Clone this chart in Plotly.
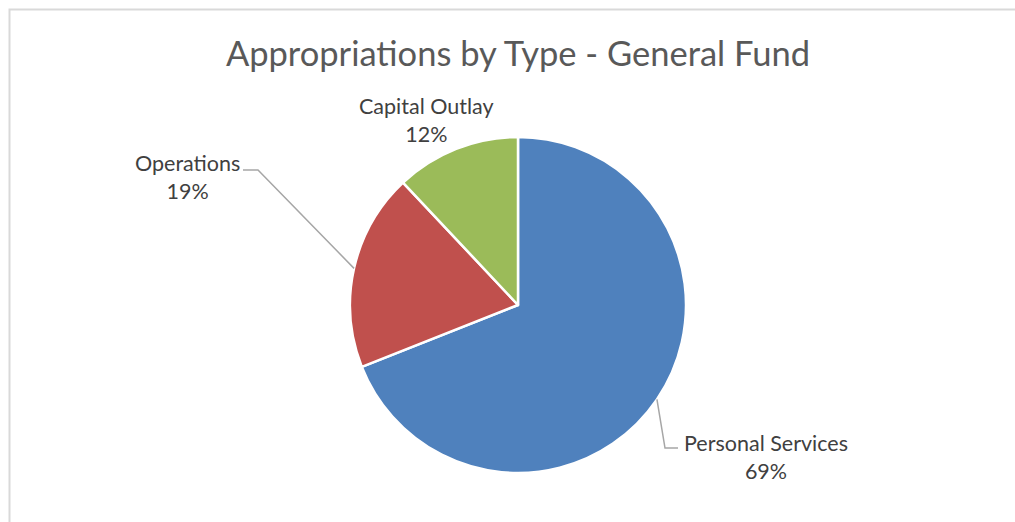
import math
import plotly.graph_objects as go

# Appropriations by type (share of the General Fund, %)
categories = ["Personal Services", "Operations", "Capital Outlay"]
shares = [69, 19, 12]
colors = ["#4F81BD", "#C0504D", "#9BBB59"]

W, H = 1015, 522

# Pie placement in pixels (centre and radius)
CX, CY, R = 518, 305, 168

fig = go.Figure(
    go.Pie(
        labels=categories,
        values=shares,
        sort=False,
        direction="clockwise",
        rotation=0,
        marker=dict(colors=colors, line=dict(color="white", width=2.5)),
        textinfo="none",
        hoverinfo="skip",
        showlegend=False,
        domain=dict(x=[(CX - R) / W, (CX + R) / W],
                    y=[1 - (CY + R) / H, 1 - (CY - R) / H]),
    )
)


def px(x, y):
    return x / W, 1 - y / H


def slice_edge(i):
    """Point on the rim at the middle of slice i (clockwise from 12 o'clock)."""
    total = sum(shares)
    start = sum(shares[:i])
    mid = (start + shares[i] / 2) / total * 2 * math.pi
    return CX + R * math.sin(mid), CY - R * math.cos(mid)


# Label placement: (text centre x/y, leader elbow, leader end)
label_layout = {
    "Personal Services": dict(cx=766, cy=457, elbow=(665, 448), end=(678, 448)),
    "Operations": dict(cx=187, cy=177, elbow=(258, 170), end=(243, 170)),
    "Capital Outlay": dict(cx=426, cy=120, elbow=None, end=None),
}

FONT = "Lato, Carlito, Open Sans, sans-serif"

shapes = []
annotations = []
for i, (cat, val) in enumerate(zip(categories, shares)):
    lay = label_layout[cat]
    x, y = px(lay["cx"], lay["cy"])
    annotations.append(dict(
        x=x, y=y, xref="paper", yref="paper",
        text=f"{cat}<br>{val}%", showarrow=False,
        font=dict(family=FONT, size=21.5, color="#404040"),
        align="center", xanchor="center", yanchor="middle",
    ))
    if lay["elbow"]:
        sx, sy = slice_edge(i)
        pts = [(sx, sy), lay["elbow"], lay["end"]]
        path = "M " + " L ".join(f"{px(a, b)[0]},{px(a, b)[1]}" for a, b in pts)
        shapes.append(dict(type="path", path=path, xref="paper", yref="paper",
                           line=dict(color="#A6A6A6", width=1.5)))

# Chart frame
shapes.append(dict(type="rect", xref="paper", yref="paper",
                   x0=9.5 / W, x1=1.02, y0=-0.02, y1=1 - 9.5 / H,
                   line=dict(color="#D9D9D9", width=2), layer="below"))

fig.update_layout(
    width=W, height=H,
    margin=dict(l=0, r=0, t=0, b=0),
    paper_bgcolor="white",
    title=dict(text="Appropriations by Type - General Fund",
               x=518 / W, xanchor="center", y=1 - 54 / H, yanchor="middle",
               font=dict(family=FONT, size=34.5, color="#595959")),
    shapes=shapes,
    annotations=annotations,
)

fig.write_html("out.html")
